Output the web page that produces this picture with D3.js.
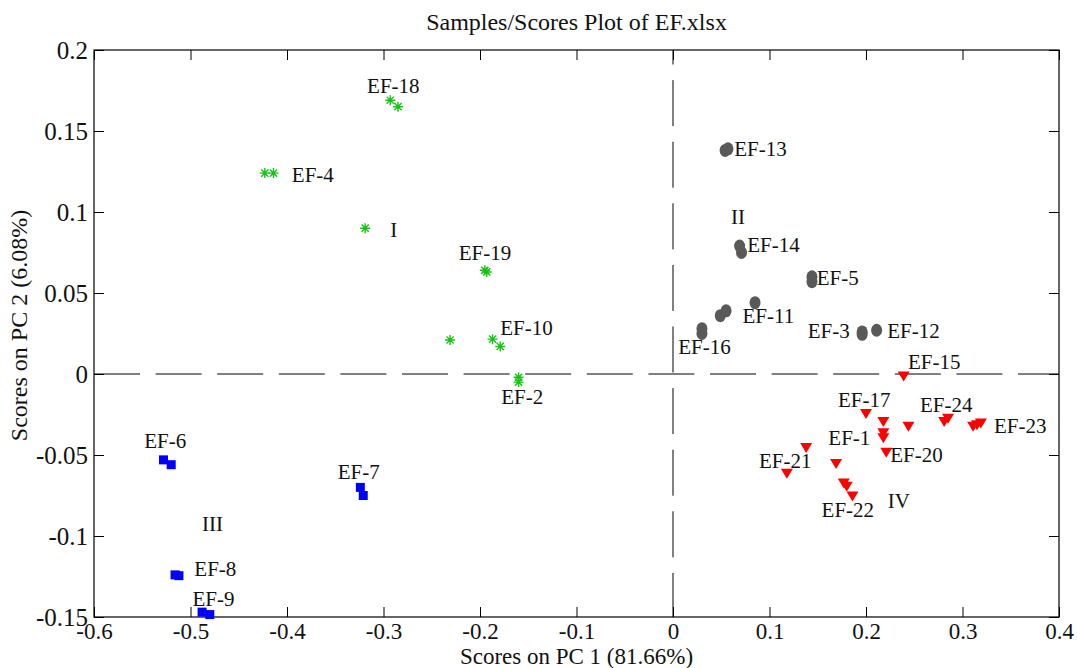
<!DOCTYPE html>
<html>
<head>
<meta charset="utf-8">
<script src="https://cdn.jsdelivr.net/npm/d3@7"></script>
<style>
  body { margin: 0; background: #fff; }
  svg text { font-family: "Liberation Serif", "Times New Roman", serif; fill: #111; }
</style>
</head>
<body>
<svg id="chart" width="1077" height="668"></svg>
<script>
// scores (PC1, PC2) per cluster
const groupI = [[-0.293, 0.169], [-0.285, 0.165], [-0.423, 0.124], [-0.414, 0.124], [-0.319, 0.090],
  [-0.195, 0.064], [-0.193, 0.063], [-0.231, 0.021], [-0.187, 0.0215], [-0.179, 0.017],
  [-0.160, -0.002], [-0.160, -0.005]];
const groupII = [[0.054, 0.138], [0.057, 0.139], [0.069, 0.079], [0.071, 0.075], [0.144, 0.060],
  [0.144, 0.057], [0.085, 0.044], [0.049, 0.036], [0.055, 0.039], [0.030, 0.028], [0.030, 0.025],
  [0.196, 0.026], [0.196, 0.0245], [0.211, 0.027]];
const groupIII = [[-0.528, -0.053], [-0.520, -0.056], [-0.324, -0.070], [-0.321, -0.075],
  [-0.516, -0.124], [-0.512, -0.1245], [-0.488, -0.147], [-0.480, -0.1485]];
const groupIV = [[0.239, -0.001], [0.200, -0.024], [0.218, -0.029], [0.244, -0.032], [0.281, -0.029],
  [0.285, -0.027], [0.311, -0.032], [0.315, -0.031], [0.319, -0.030], [0.218, -0.036], [0.218, -0.039],
  [0.221, -0.048], [0.138, -0.045], [0.118, -0.061], [0.169, -0.055], [0.177, -0.067], [0.180, -0.069],
  [0.186, -0.075]];

// annotation text, anchored at its left baseline in data units
const labels = [
  ["EF-18", -0.317, 0.1736], ["EF-4", -0.395, 0.1183], ["I", -0.293, 0.0844], ["EF-19", -0.222, 0.0704],
  ["EF-10", -0.179, 0.0241], ["EF-2", -0.178, -0.0185], ["EF-6", -0.548, -0.0459], ["EF-7", -0.3475, -0.065],
  ["III", -0.488, -0.0967], ["EF-8", -0.496, -0.1247], ["EF-9", -0.498, -0.143], ["EF-13", 0.0635, 0.1348],
  ["II", 0.060, 0.0926], ["EF-14", 0.077, 0.0755], ["EF-5", 0.149, 0.0549], ["EF-11", 0.072, 0.0317],
  ["EF-16", 0.0055, 0.0123], ["EF-3", 0.1396, 0.022], ["EF-12", 0.222, 0.022], ["EF-15", 0.2435, 0.0031],
  ["EF-17", 0.171, -0.0206], ["EF-24", 0.256, -0.0236], ["EF-23", 0.3326, -0.0362], ["EF-1", 0.161, -0.0438],
  ["EF-20", 0.225, -0.0541], ["EF-21", 0.089, -0.0582], ["EF-22", 0.154, -0.0881], ["IV", 0.2225, -0.0829]
];

const xTicks = [-0.6, -0.5, -0.4, -0.3, -0.2, -0.1, 0, 0.1, 0.2, 0.3, 0.4];
const xTickLabels = ["-0.6", "-0.5", "-0.4", "-0.3", "-0.2", "-0.1", "0", "0.1", "0.2", "0.3", "0.4"];
const yTicks = [0.2, 0.15, 0.1, 0.05, 0, -0.05, -0.1, -0.15];
const yTickLabels = ["0.2", "0.15", "0.1", "0.05", "0", "-0.05", "-0.1", "-0.15"];

const W = 1077, H = 668;
const m = {top: 50, right: 18, bottom: 51, left: 94};
const w = W - m.left - m.right, h = H - m.top - m.bottom;

const svg = d3.select("#chart");
const g = svg.append("g").attr("transform", `translate(${m.left},${m.top})`);

const x = d3.scaleLinear().domain([-0.6, 0.4]).range([0, w]);
const y = d3.scaleLinear().domain([-0.15, 0.2]).range([h, 0]);

// zero lines, dashed
g.append("line").attr("x1", 0).attr("x2", w).attr("y1", y(0)).attr("y2", y(0))
  .attr("stroke", "#000").attr("stroke-width", 1).attr("stroke-dasharray", "46,15.6");
g.append("line").attr("x1", x(0)).attr("x2", x(0)).attr("y1", 0).attr("y2", h)
  .attr("stroke", "#000").attr("stroke-width", 1).attr("stroke-dasharray", "46,15.6").attr("stroke-dashoffset", 31.5);

// axes: MATLAB style box with inward ticks
const fmtX = d => xTickLabels[xTicks.indexOf(d)];
const fmtY = d => yTickLabels[yTicks.indexOf(d)];
const ax = (sel) => { sel.select(".domain").remove(); sel.selectAll("line").attr("stroke", "#000"); };

g.append("g").attr("transform", `translate(0,${h})`)
  .call(d3.axisBottom(x).tickValues(xTicks).tickFormat(fmtX).tickSize(-10).tickPadding(6))
  .call(ax).selectAll("text").style("font-size", "23px").attr("fill", "#111");
g.append("g")
  .call(d3.axisTop(x).tickValues(xTicks).tickFormat("").tickSize(-10)).call(ax);
g.append("g")
  .call(d3.axisLeft(y).tickValues(yTicks).tickFormat(fmtY).tickSize(-10).tickPadding(6))
  .call(ax).selectAll("text").style("font-size", "25px").attr("fill", "#111");
g.append("g").attr("transform", `translate(${w},0)`)
  .call(d3.axisRight(y).tickValues(yTicks).tickFormat("").tickSize(-10)).call(ax);

g.append("rect").attr("width", w).attr("height", h).attr("fill", "none").attr("stroke", "#000").attr("stroke-width", 1.2);

// markers
const star = "M-5,0H5M0,-5V5M-3.6,-3.6L3.6,3.6M-3.6,3.6L3.6,-3.6";
g.append("g").selectAll("path").data(groupI).join("path")
  .attr("transform", d => `translate(${x(d[0])},${y(d[1])})`)
  .attr("d", star).attr("stroke", "#14c414").attr("stroke-width", 1.4).attr("fill", "none");

g.append("g").selectAll("ellipse").data(groupII).join("ellipse")
  .attr("cx", d => x(d[0])).attr("cy", d => y(d[1])).attr("rx", 5.5).attr("ry", 6.5)
  .attr("fill", "#595959");

g.append("g").selectAll("rect").data(groupIII).join("rect")
  .attr("x", d => x(d[0]) - 4.5).attr("y", d => y(d[1]) - 4.5).attr("width", 9).attr("height", 9)
  .attr("fill", "#0000ff");

g.append("g").selectAll("path").data(groupIV).join("path")
  .attr("transform", d => `translate(${x(d[0])},${y(d[1])})`)
  .attr("d", "M-6,-4H6L0,6Z").attr("fill", "#ff0000");

// point labels
g.append("g").selectAll("text").data(labels).join("text")
  .attr("x", d => x(d[1])).attr("y", d => y(d[2]))
  .style("font-size", "21px").text(d => d[0]);

// titles
svg.append("text").attr("x", m.left + w / 2).attr("y", 30).attr("text-anchor", "middle")
  .style("font-size", "24px").text("Samples/Scores Plot of EF.xlsx");
svg.append("text").attr("x", m.left + w / 2).attr("y", 664).attr("text-anchor", "middle")
  .style("font-size", "23px").text("Scores on PC 1 (81.66%)");
svg.append("text").attr("transform", `translate(27,${m.top + h / 2 - 8}) rotate(-90)`).attr("text-anchor", "middle")
  .style("font-size", "24px").text("Scores on PC 2 (6.08%)");
</script>
</body>
</html>
